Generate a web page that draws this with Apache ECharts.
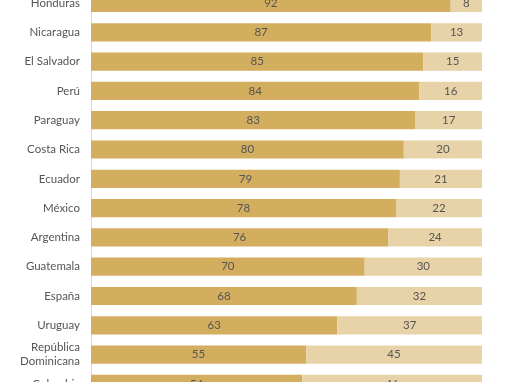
<!DOCTYPE html>
<html><head><meta charset="utf-8">
<script src="https://cdn.jsdelivr.net/npm/echarts@6/dist/echarts.min.js"></script>
<style>html,body{margin:0;padding:0;background:#fff;overflow:hidden}#c{width:510px;height:382px}</style>
</head><body><div id="c"></div>
<script>
const categories = ["Honduras","Nicaragua","El Salvador","Perú","Paraguay","Costa Rica","Ecuador","México","Argentina","Guatemala","España","Uruguay","República\nDominicana","Colombia"];
const seriesA = [92,87,85,84,83,80,79,78,76,70,68,63,55,54];
const seriesB = [8,13,15,16,17,20,21,22,24,30,32,37,45,46];
const n = categories.length;
const step = 29.3;
const chart = echarts.init(document.getElementById('c'));
const lbl = {show:true, position:'inside', color:'#555', fontSize:11.5, fontFamily:'Lato'};
chart.setOption({
  animation:false,
  grid:{left:91, width:391, top:3 - step/2, height:step*n, outerBoundsMode:'none'},
  xAxis:{type:'value', min:0, max:100, show:false},
  yAxis:{type:'category', inverse:true, data:categories,
    axisLine:{show:true, lineStyle:{color:'#d9d9d9', width:1}},
    axisTick:{show:false},
    axisLabel:{color:'#555', fontSize:11.5, fontFamily:'Lato', margin:11, lineHeight:14, align:'right'}},
  series:[
    {type:'bar', stack:'t', data:seriesA, barCategoryGap:'38%', itemStyle:{color:'#D4AE5F'}, label:lbl},
    {type:'bar', stack:'t', data:seriesB, itemStyle:{color:'#E8D2A7'}, label:lbl}
  ]
});
</script></body></html>
